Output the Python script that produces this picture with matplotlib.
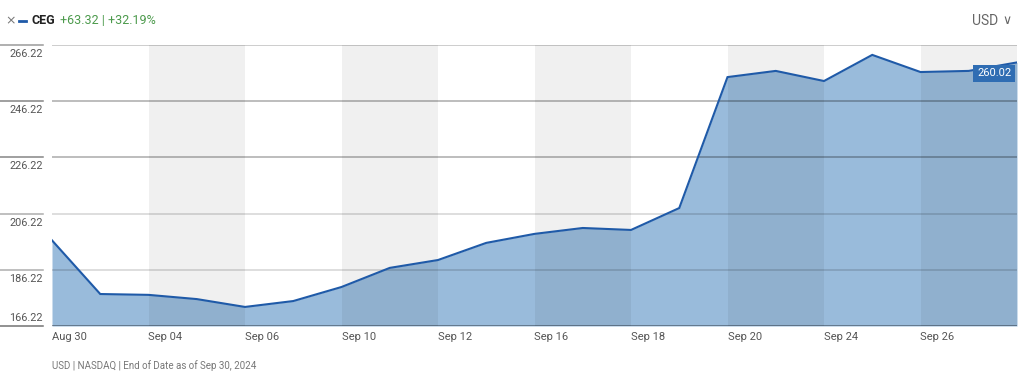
import matplotlib
matplotlib.use("Agg")
import matplotlib.pyplot as plt
from matplotlib import font_manager

names = {f.name for f in font_manager.fontManager.ttflist}
NARROW = 'Liberation Sans Narrow' if 'Liberation Sans Narrow' in names else 'Roboto'
plt.rcParams['font.family'] = [NARROW, 'DejaVu Sans']

# ---- data ----
dates = ["Aug 30", "Sep 03", "Sep 04", "Sep 05", "Sep 06", "Sep 09", "Sep 10",
         "Sep 11", "Sep 12", "Sep 13", "Sep 16", "Sep 17", "Sep 18", "Sep 19",
         "Sep 20", "Sep 23", "Sep 24", "Sep 25", "Sep 26", "Sep 27", "Sep 30"]
closes = [196.70, 177.6, 177.3, 175.8, 173.0, 175.1, 180.1, 186.9, 189.7, 195.8,
          199.0, 201.1, 200.4, 208.2, 254.8, 257.0, 253.4, 262.7, 256.6, 257.0, 260.02]
tick_labels = ["Aug 30", "Sep 04", "Sep 06", "Sep 10", "Sep 12", "Sep 16",
               "Sep 18", "Sep 20", "Sep 24", "Sep 26"]
y_ticks = [166.22, 186.22, 206.22, 226.22, 246.22, 266.22]
ticker = "CEG"
change_abs = "+63.32"
change_pct = "+32.19%"
last_label = "260.02"
footer = "USD | NASDAQ | End of Date as of Sep 30, 2024"

W, H = 1024, 376
fig = plt.figure(figsize=(W / 100, H / 100), dpi=100)
L, R, T, B = 52, 1017, 45, 326
ax = fig.add_axes([L / W, 1 - B / H, (R - L) / W, (B - T) / H])

x = list(range(len(dates)))
ymin, ymax = y_ticks[0], y_ticks[-1]
ax.set_xlim(0, len(dates) - 1)
ax.set_ylim(ymin, ymax)

# fill and line
ax.fill_between(x, closes, ymin, color='#99bbdb', lw=0, zorder=1)

# alternating bands (drawn over fill as translucent gray)
tick_idx = [dates.index(t) for t in tick_labels]
for i in range(1, len(tick_idx), 2):
    x0 = tick_idx[i]
    x1 = tick_idx[i + 1] if i + 1 < len(tick_idx) else len(dates) - 1
    ax.axvspan(x0, x1, color='black', alpha=0.06, lw=0, zorder=2)

ax.plot(x, closes, color='#1f5aa8', lw=1.5, zorder=4, solid_joinstyle='miter')

# gridlines
grid_alpha = {166.22: 0.45, 186.22: 0.17, 206.22: 0.17, 226.22: 0.33, 246.22: 0.33, 266.22: 0.25}
for yv in y_ticks:
    ax.axhline(yv, color='black', alpha=grid_alpha[yv], lw=1.1, zorder=3)
    yf = fig.transFigure.inverted().transform(ax.transData.transform((0, yv)))[1]
    fig.add_artist(plt.Line2D([0, 43 / W], [yf, yf], color='black',
                              alpha=min(grid_alpha[yv] + 0.15, 0.55), lw=1.1))
    off = -9 / H if yv != ymin else 8 / H
    fig.text(43 / W, yf + off, f"{yv:.2f}", ha='right', va='center',
             fontsize=7.8, color='#555555')

for s in ax.spines.values():
    s.set_visible(False)
ax.set_yticks([])
ax.set_xticks(tick_idx)
ax.set_xticklabels(tick_labels, ha='left', fontsize=8, color='#555555')
ax.tick_params(axis='x', length=0, pad=4)

# last value label
ax.annotate(last_label, xy=(len(dates) - 1, closes[-1]), xytext=(-23, -11),
            textcoords='offset pixels', ha='center', va='center', fontsize=8,
            color='white', zorder=6, annotation_clip=False,
            bbox=dict(boxstyle='square,pad=0.35', fc='#2f6db3', ec='none'))

# header
yh = 1 - 21 / H
fig.text(11 / W, yh, "×", fontsize=9, color='#777777', va='center', ha='center',
         family='DejaVu Sans')
fig.add_artist(plt.Line2D([19 / W, 26 / W], [yh, yh], color='#1f5aa8', lw=2))
t1 = fig.text(31 / W, yh, ticker, fontsize=9, color='#222222',
              va='center', fontweight='bold')
fig.canvas.draw()
r = fig.canvas.get_renderer()
bb = t1.get_window_extent(r)
fig.text((bb.x1 + 5) / W, yh, f"{change_abs} | {change_pct}", fontsize=9,
         color='#4c9a4c', va='center')
fig.text(998 / W, yh, "USD", fontsize=10, color='#666666',
         va='center', ha='right')
fig.text(1012 / W, yh, "∨", fontsize=9, color='#666666', va='center',
         ha='right', family='DejaVu Sans')

fig.text(52 / W, 1 - 366 / H, footer, fontsize=7, color='#777777', va='center')

fig.savefig("out.png", dpi=100)
